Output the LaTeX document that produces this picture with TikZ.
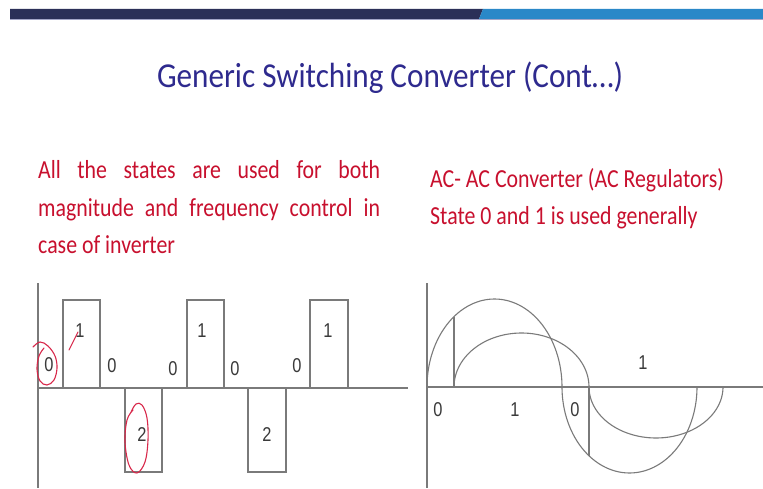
\documentclass[tikz,border=0pt]{standalone}
\usepackage{fontspec}
\setmainfont{Carlito}
\newfontfamily\titlefont[FakeStretch=0.89]{Carlito}
\newfontfamily\redfont[FakeStretch=0.84]{Carlito}
\newfontfamily\labfont[FakeStretch=0.82]{Liberation Sans}
\definecolor{navybar}{HTML}{2B3058}
\definecolor{bluebar}{HTML}{2A88C8}
\definecolor{barline}{HTML}{A4A6C8}
\definecolor{titleblue}{HTML}{2E2A8E}
\definecolor{slidered}{HTML}{C8102E}
\definecolor{inkred}{HTML}{D8284A}
\definecolor{wave}{HTML}{7A7A7A}
\definecolor{labgray}{HTML}{3A3A3A}
\tikzset{
  waveline/.style={draw=wave, line width=1.1pt},
  lab/.style={font=\labfont\fontsize{20}{22}\selectfont, text=labgray, inner sep=0pt},
  redtxt/.style={font=\redfont\fontsize{26}{37}\selectfont, text=slidered, inner sep=0pt, anchor=base west},
  ink/.style={draw=inkred, line width=1.1pt, line cap=round}
}
\begin{document}
\begin{tikzpicture}[x=1pt,y=-1pt]
\useasboundingbox (0,0) rectangle (763,489);
\fill[white] (0,0) rectangle (763,489);
% top bar
\fill[navybar] (10,9) -- (483,9) -- (479,19) -- (10,19) -- cycle;
\fill[bluebar] (483,9) -- (763,9) -- (763,19) -- (479,19) -- cycle;
\fill[barline] (10,19) rectangle (763,20.5);
% title
\node[font=\titlefont\fontsize{35}{40}\selectfont, text=titleblue, anchor=base, inner sep=0pt] (title) at (390,88) {Generic Switching Converter (Cont…)};
% left text
\node[redtxt] (l1) at (38,179) {\makebox[342pt][s]{All the states are used for both}};
\node[redtxt] (l2) at (38,217) {\makebox[342pt][s]{magnitude and frequency control in}};
\node[redtxt] (l3) at (38,253) {case of inverter};
% right text
\node[redtxt] (r1) at (430,188) {AC- AC Converter (AC Regulators)};
\node[redtxt] (r2) at (430,225) {State 0 and 1 is used generally};
% left waveform
\draw[waveline] (38,283) -- (38,488);
\draw[waveline] (38,388) -- (408,388);
\draw[waveline] (63,388) -- (63,300) -- (100,300) -- (100,388);
\draw[waveline] (125,388) -- (125,472) -- (162,472) -- (162,388);
\draw[waveline] (187,388) -- (187,300) -- (224,300) -- (224,388);
\draw[waveline] (248,388) -- (248,472) -- (286,472) -- (286,388);
\draw[waveline] (310,388) -- (310,300) -- (348,300) -- (348,388);
\node[lab] (a0) at (49,365) {0};
\node[lab] (a1) at (80,331) {1};
\node[lab] (a2) at (112,366) {0};
\node[lab] (a3) at (142,435) {2};
\node[lab] (a4) at (173,369) {0};
\node[lab] (a5) at (202,331) {1};
\node[lab] (a6) at (235,369) {0};
\node[lab] (a7) at (267,435) {2};
\node[lab] (a8) at (297,366) {0};
\node[lab] (a9) at (328,331) {1};
% red annotations
\draw[ink] plot[smooth, tension=0.6] coordinates {(33,347) (40,342) (48,346) (55,356) (57,368) (54,380) (47,385) (40,381) (37,369) (39,356) (44,348)};
\draw[ink] (69,350) -- (78,332);
\draw[ink] plot[smooth, tension=0.6] coordinates {(131,412) (136,404) (142,405) (147,418) (148,440) (145,462) (137,473) (129,465) (125,442) (127,420) (133,410)};
% right waveform
\draw[waveline] (427,283) -- (427,488);
\draw[waveline] (427,387) -- (763,387);
\draw[waveline] plot[smooth, domain=180:0, samples=61] ({494.5+67.5*cos(\x)},{387-88*sin(\x)});
\draw[waveline] plot[smooth, domain=180:0, samples=61] ({629.5+67.5*cos(\x)},{387+86*sin(\x)});
\draw[waveline] plot[smooth, domain=180:0, samples=61] ({521.5+67.5*cos(\x)},{387-54*sin(\x)});
\draw[waveline] plot[smooth, domain=180:0, samples=61] ({656+67*cos(\x)},{387+51*sin(\x)});
\coordinate (v1a) at (454,387);
\coordinate (v1b) at (454,316.6);
\coordinate (v2a) at (589,387);
\coordinate (v2b) at (589,455.8);
\draw[waveline] (v1a) -- (v1b);
\draw[waveline] (v2a) -- (v2b);
\node[lab] (b0) at (438,410) {0};
\node[lab] (b1) at (515,410) {1};
\node[lab] (b2) at (575,410) {0};
\node[lab] (b3) at (643,363) {1};
\end{tikzpicture}
\end{document}
